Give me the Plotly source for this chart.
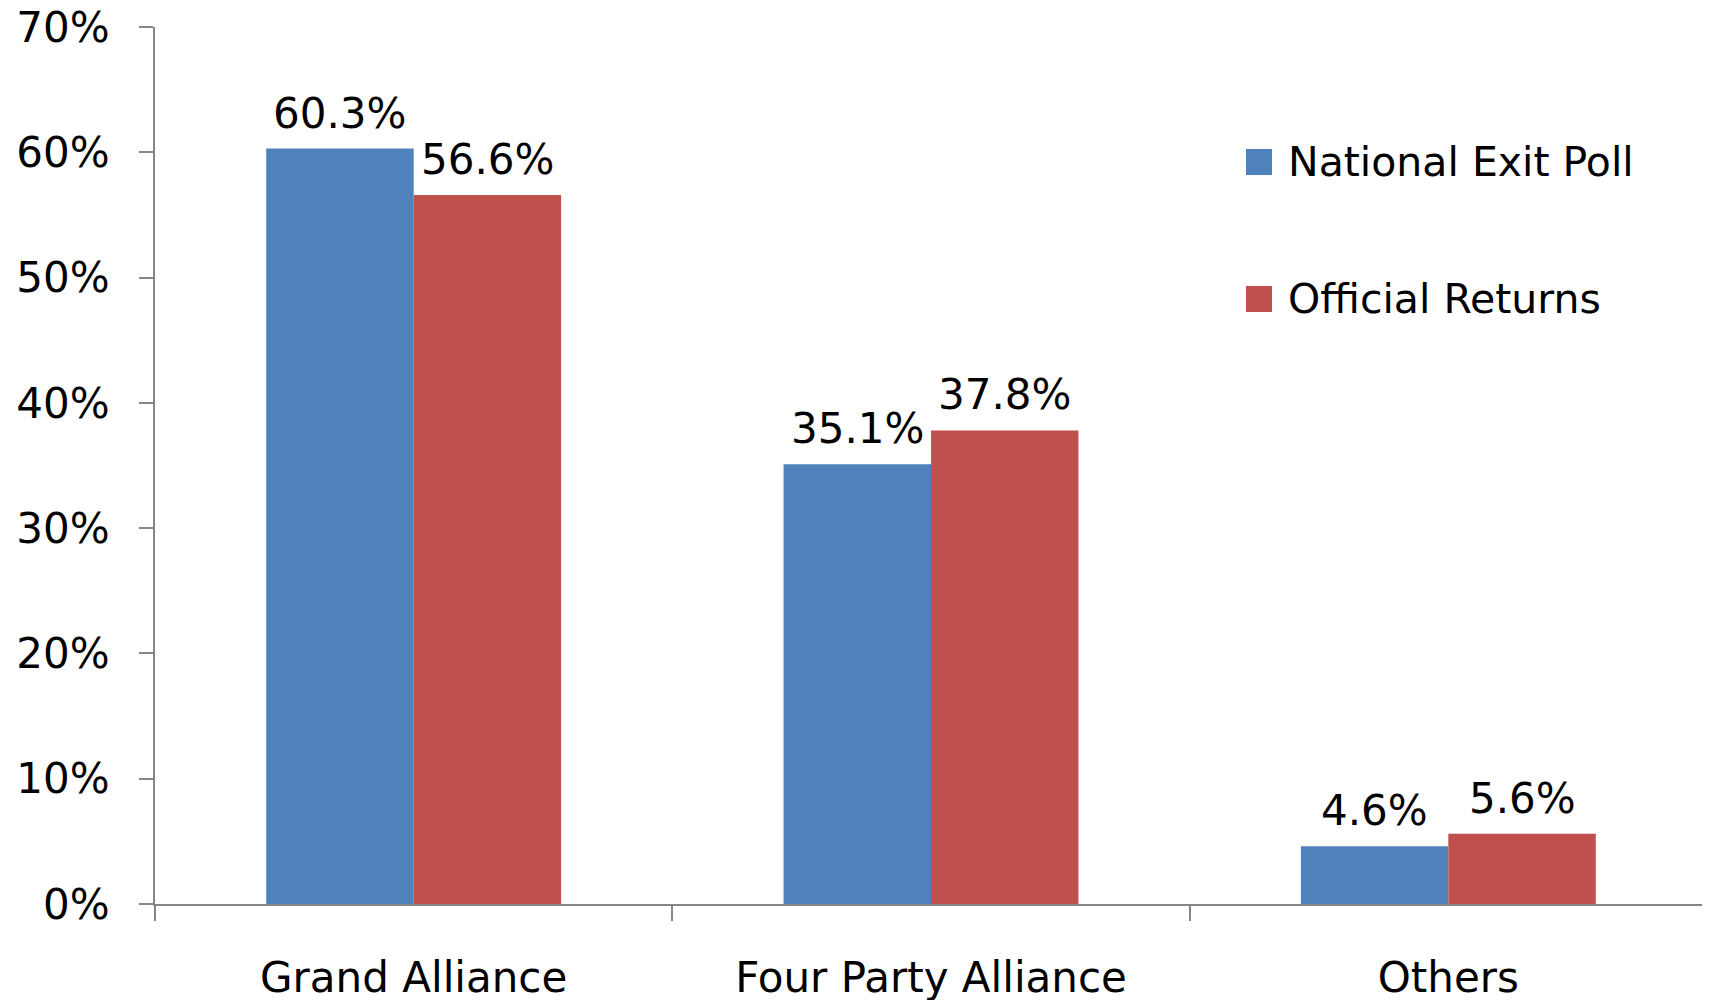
import plotly.graph_objects as go

categories = ["Grand Alliance", "Four Party Alliance", "Others"]
exit_poll = [60.3, 35.1, 4.6]
official = [56.6, 37.8, 5.6]
series_names = ["National Exit Poll", "Official Returns"]
y_ticks = [0, 10, 20, 30, 40, 50, 60, 70]

BLUE = "#4F81BD"
RED = "#C0504D"
AXIS = "#868686"
FONT = "DejaVu Sans, Verdana, sans-serif"

W, H = 1710, 1000
# page body has an 8px margin, so everything sits 8px in from where it lands
OFF = 8
L, R, T, B = 155 - OFF, 11, 27 - OFF, 104
BARGAP = 0.43


def px_to_paper(x, y):
    # page pixel position -> paper coords of the plot area
    x -= OFF
    y -= OFF
    return (x - L) / (W - L - R), 1 - (y - T) / (H - T - B)


fig = go.Figure()
for name, vals, col in zip(series_names, [exit_poll, official], [BLUE, RED]):
    fig.add_trace(
        go.Bar(
            name=name,
            x=categories,
            y=vals,
            marker=dict(color=col, line=dict(width=0)),
        )
    )

# value labels, a bit higher above the bars than plotly's outside text
cat_w = (W - L - R) / len(categories)
bar_w = cat_w * (1 - BARGAP) / 2
annotations = []
for i, vals in enumerate([exit_poll, official]):
    for c, v in zip(categories, vals):
        annotations.append(
            dict(x=c, y=v, xref="x", yref="y", text=f"{v:.1f}%", showarrow=False,
                 xshift=(i - 0.5) * bar_w, yshift=9, yanchor="bottom",
                 font=dict(family=FONT, size=42, color="black"))
        )

# hand-made legend (big square keys like the original)
shapes = []
for i, (name, col) in enumerate(zip(series_names, [BLUE, RED])):
    yc = 162 + i * 137
    x0, y0 = px_to_paper(1246, yc - 13)
    x1, y1 = px_to_paper(1272, yc + 13)
    shapes.append(
        dict(type="rect", xref="paper", yref="paper", x0=x0, x1=x1, y0=y1, y1=y0,
             fillcolor=col, line=dict(width=0))
    )
    tx, ty = px_to_paper(1286, yc)
    annotations.append(
        dict(xref="paper", yref="paper", x=tx, y=ty, text=name, showarrow=False,
             xanchor="left", yanchor="middle",
             font=dict(family=FONT, size=41, color="black"))
    )

fig.update_layout(
    template="none",
    width=W,
    height=H,
    margin=dict(l=L, r=R, t=T, b=B, pad=0, autoexpand=False),
    barmode="group",
    bargap=BARGAP,
    bargroupgap=0,
    showlegend=False,
    plot_bgcolor="white",
    paper_bgcolor="white",
    font=dict(family=FONT, size=42, color="black"),
    shapes=shapes,
    annotations=annotations,
)
fig.update_yaxes(
    automargin=False,
    range=[0, 70],
    tickvals=y_ticks,
    ticktext=[f"{t}%" for t in y_ticks],
    ticklabeloverflow="allow",
    showgrid=False,
    zeroline=False,
    showline=True,
    linecolor=AXIS,
    linewidth=2,
    ticks="outside",
    ticklen=14,
    tickwidth=2,
    tickcolor=AXIS,
    ticklabelstandoff=21,
    tickfont=dict(family=FONT, size=42, color="black"),
)
fig.update_xaxes(
    automargin=False,
    ticklabeloverflow="allow",
    showgrid=False,
    showline=True,
    linecolor=AXIS,
    linewidth=2,
    ticks="outside",
    tickson="boundaries",
    ticklen=15,
    tickwidth=2,
    tickcolor=AXIS,
    ticklabelstandoff=36,
    tickfont=dict(family=FONT, size=42, color="black"),
)

fig.write_html("out.html")
